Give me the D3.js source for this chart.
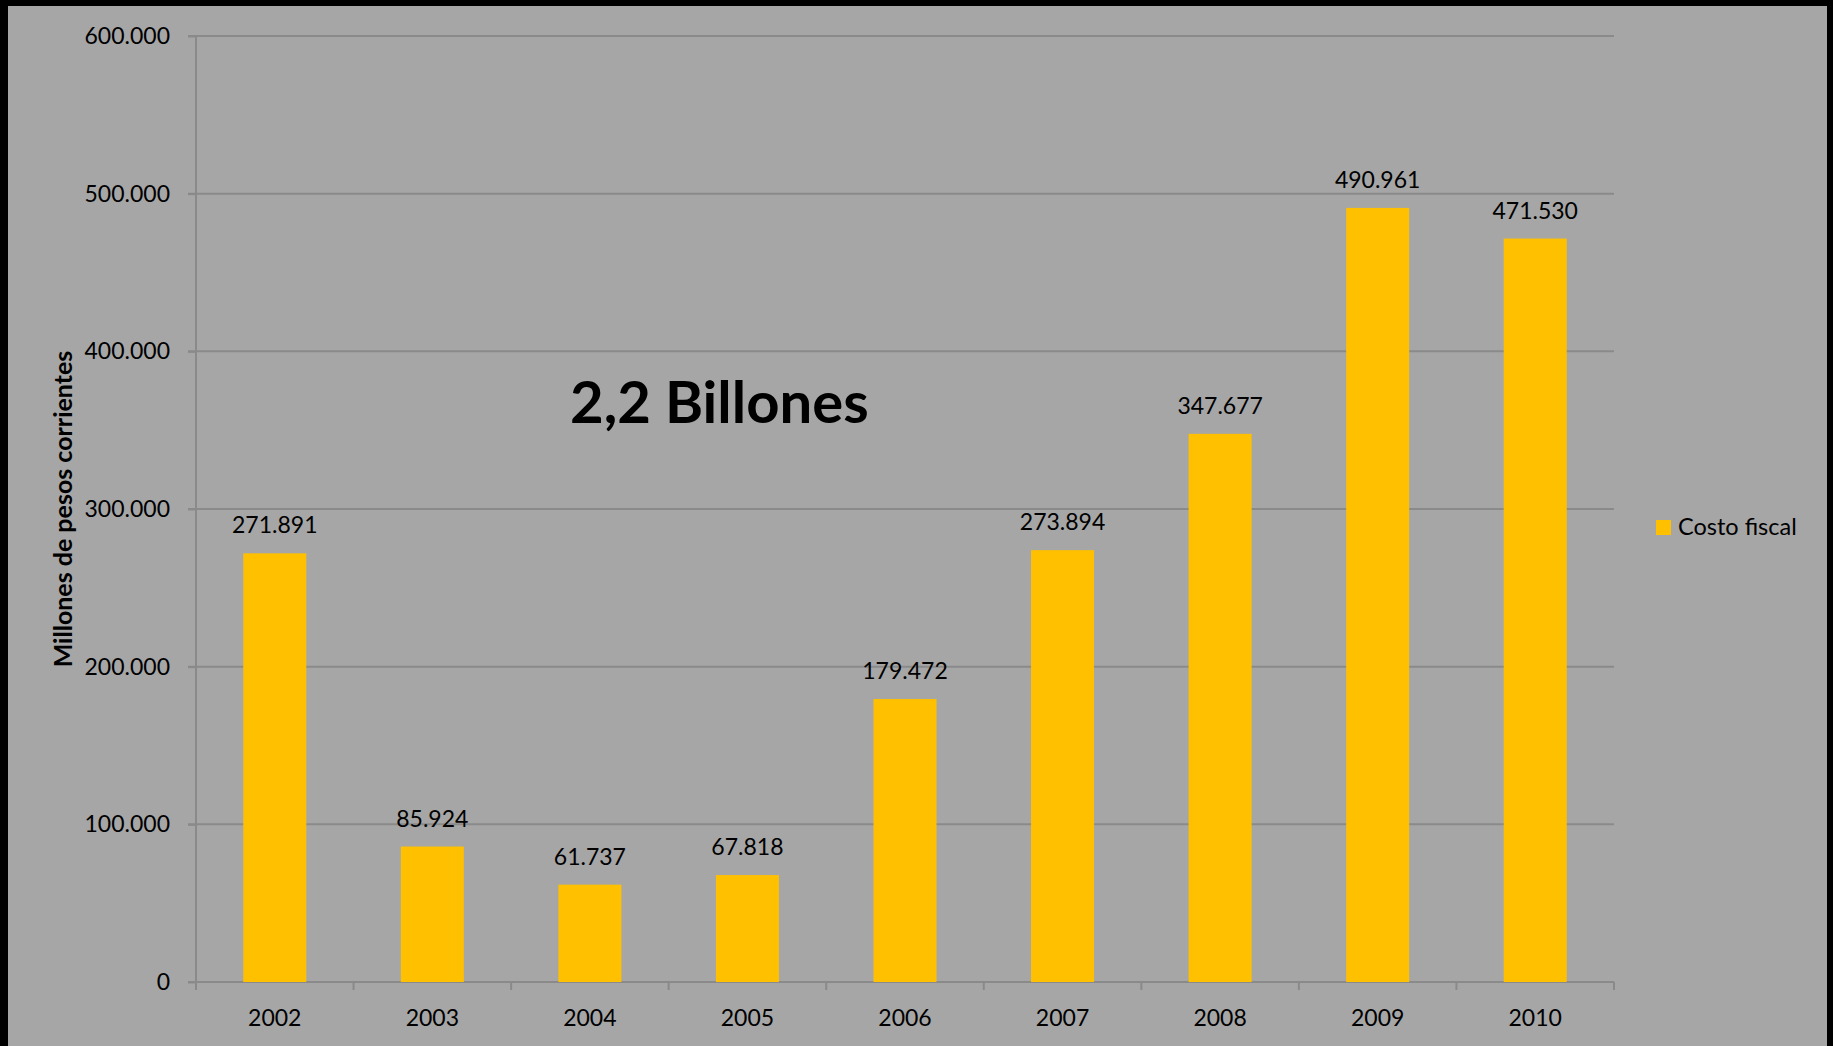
<!DOCTYPE html>
<html><head><meta charset="utf-8">
<script src="https://cdn.jsdelivr.net/npm/d3@7"></script>
<style>
html,body{margin:0;padding:0;background:#000;}
svg{display:block;}
text{font-family:Lato,"Open Sans",sans-serif;fill:#000;}
</style></head>
<body>
<script>
const categories = ["2002","2003","2004","2005","2006","2007","2008","2009","2010"];
const values = [271891, 85924, 61737, 67818, 179472, 273894, 347677, 490961, 471530];
const valueLabels = ["271.891","85.924","61.737","67.818","179.472","273.894","347.677","490.961","471.530"];
const yTicks = [0, 100000, 200000, 300000, 400000, 500000, 600000];
const yTickLabels = ["0","100.000","200.000","300.000","400.000","500.000","600.000"];
const seriesName = "Costo fiscal";
const yTitle = "Millones de pesos corrientes";
const annotation = "2,2 Billones";

(function(){
const W = 1833, H = 1046;
const svg = d3.select("body").append("svg").attr("width", W).attr("height", H);
svg.append("rect").attr("x", 8).attr("y", 6).attr("width", W - 8 - 6).attr("height", H - 6).attr("fill", "#a6a6a6");

const pL = 196, pR = 1614, pT = 36, pB = 982;
const x = d3.scaleBand().domain(categories).range([pL, pR]).paddingInner(0.6).paddingOuter(0.3);
const y = d3.scaleLinear().domain([0, 600000]).range([pB, pT]);
const gridColor = "#8a8a8a";

// gridlines
svg.append("g").selectAll("line").data(yTicks.filter(d => d > 0)).join("line")
  .attr("x1", pL - 8).attr("x2", pR).attr("y1", d => y(d)).attr("y2", d => y(d))
  .attr("stroke", gridColor).attr("stroke-width", 2);

// y axis
const yAxis = svg.append("g").attr("transform", `translate(${pL},0)`)
  .call(d3.axisLeft(y).tickValues(yTicks).tickFormat((d, i) => yTickLabels[i]).tickSize(8).tickPadding(18));
yAxis.select(".domain").attr("stroke", gridColor).attr("stroke-width", 2).attr("d", `M0,${pT}V${pB}`);
yAxis.selectAll(".tick line").attr("stroke", gridColor).attr("stroke-width", 2);
yAxis.selectAll(".tick text").attr("font-size", 23).attr("font-family", "Lato").attr("fill", "#000");

// x axis
const step = (pR - pL) / categories.length;
const xg = svg.append("g").attr("transform", `translate(0,${pB})`);
xg.append("line").attr("x1", pL - 8).attr("x2", pR).attr("stroke", gridColor).attr("stroke-width", 2);
xg.selectAll("line.t").data(d3.range(categories.length + 1)).join("line").attr("class", "t")
  .attr("x1", i => pL + i * step).attr("x2", i => pL + i * step).attr("y1", 0).attr("y2", 8)
  .attr("stroke", gridColor).attr("stroke-width", 2);
xg.selectAll("text").data(categories).join("text")
  .attr("x", d => x(d) + x.bandwidth() / 2).attr("y", 44)
  .attr("text-anchor", "middle").attr("font-size", 23).text(d => d);

// bars
svg.append("g").selectAll("rect").data(values).join("rect")
  .attr("x", (d, i) => x(categories[i])).attr("width", x.bandwidth())
  .attr("y", d => y(d)).attr("height", d => pB - y(d)).attr("fill", "#ffc000");

// data labels
svg.append("g").selectAll("text").data(values).join("text")
  .attr("x", (d, i) => x(categories[i]) + x.bandwidth() / 2).attr("y", d => y(d) - 20)
  .attr("text-anchor", "middle").attr("font-size", 23).text((d, i) => valueLabels[i]);

// y title
svg.append("text").attr("transform", "translate(72,509) rotate(-90)")
  .attr("text-anchor", "middle").attr("font-size", 25).attr("font-weight", "bold").text(yTitle);

// annotation
svg.append("text").attr("x", 570).attr("y", 423).attr("font-size", 58).attr("font-weight", "bold").text(annotation);

// legend
svg.append("rect").attr("x", 1656).attr("y", 520).attr("width", 15).attr("height", 15).attr("fill", "#ffc000");
svg.append("text").attr("x", 1678).attr("y", 535).attr("font-size", 23.5).text(seriesName);
})();
</script>
</body></html>
